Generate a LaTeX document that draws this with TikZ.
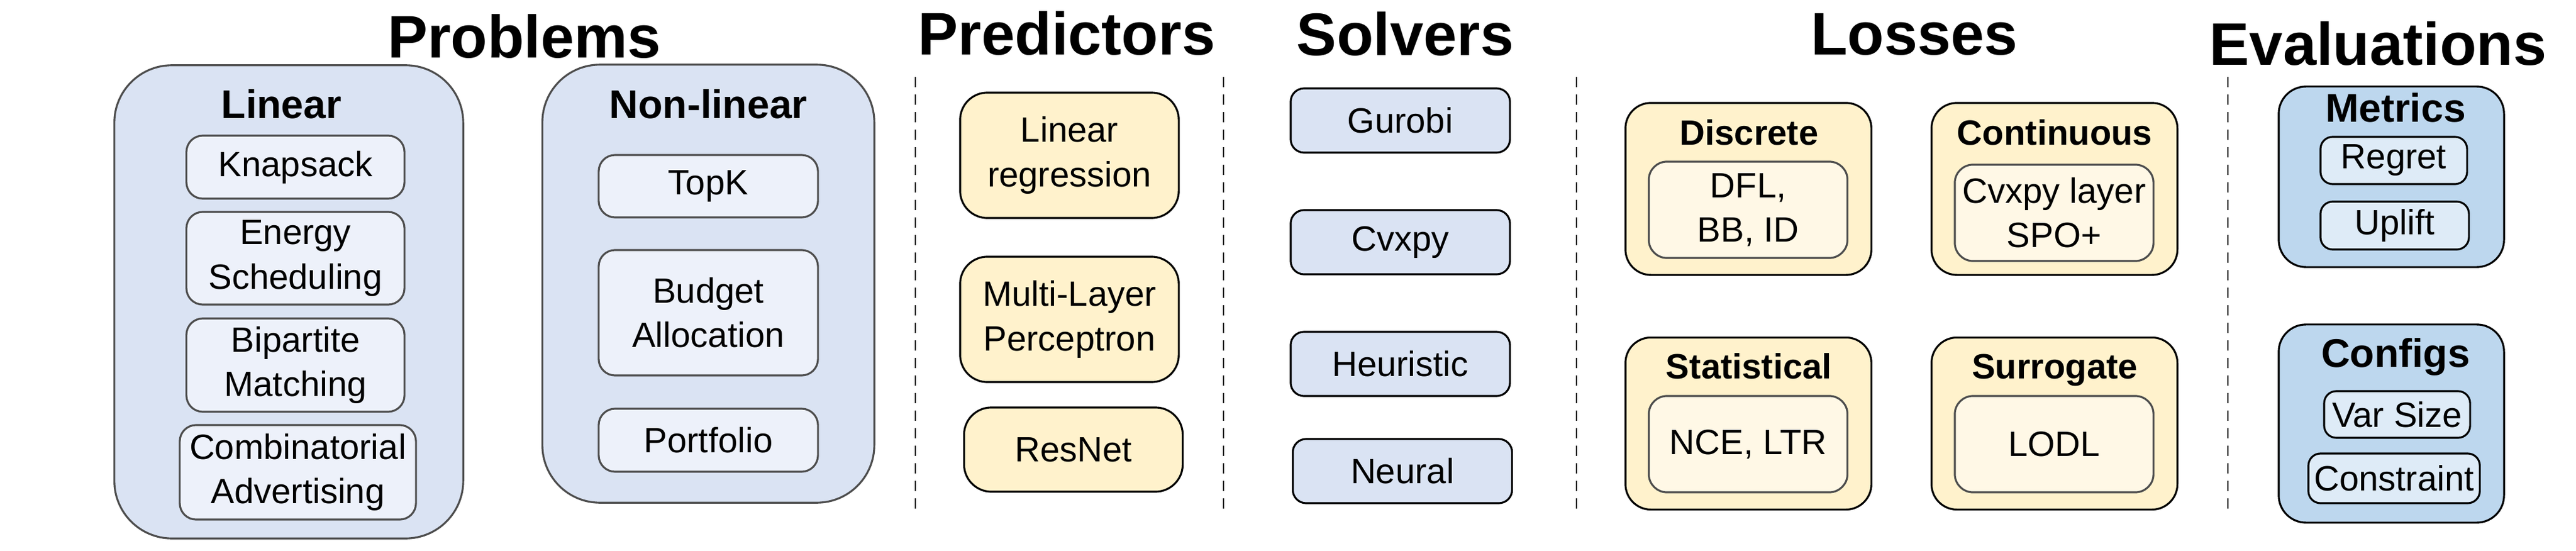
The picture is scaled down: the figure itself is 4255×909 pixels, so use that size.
\documentclass[tikz,border=0pt]{standalone}
\usepackage{fontspec}
\setmainfont{Liberation Sans}

\definecolor{probfill}{HTML}{DAE3F3}
\definecolor{probinfill}{HTML}{EDF1FA}
\definecolor{probline}{HTML}{4D4D4D}
\definecolor{predfill}{HTML}{FFF2CC}
\definecolor{lossinfill}{HTML}{FFF8E6}
\definecolor{evalfill}{HTML}{BDD7EE}
\definecolor{evalinfill}{HTML}{DEEBF7}

\newcommand{\bodyfont}{\fontsize{16.5}{20.8}\selectfont}
\newcommand{\headfont}{\fontsize{28.2}{34}\selectfont\bfseries}
\newcommand{\groupfont}{\fontsize{18.8}{22}\selectfont\bfseries}
\newcommand{\lossfont}{\fontsize{16.5}{20}\selectfont\bfseries}

\tikzset{
  boxbase/.style={line width=0.9pt, inner sep=0pt, align=center, font=\bodyfont},
  probouter/.style={boxbase, fill=probfill, draw=probline, rounded corners=0.95cm},
  probinner/.style={boxbase, fill=probinfill, draw=probline, rounded corners=0.27cm},
  predbox/.style={boxbase, fill=predfill, draw=black, rounded corners=0.45cm,
    minimum width=3.61cm},
  solvbox/.style={boxbase, fill=probfill, draw=black, rounded corners=0.22cm,
    minimum width=3.62cm, minimum height=1.06cm},
  lossouter/.style={boxbase, fill=predfill, draw=black, rounded corners=0.42cm,
    minimum width=4.06cm, minimum height=2.84cm},
  lossinner/.style={boxbase, fill=lossinfill, draw=probline, rounded corners=0.3cm,
    minimum width=3.28cm, minimum height=1.59cm},
  evalouter/.style={boxbase, fill=evalfill, draw=black, rounded corners=0.45cm,
    minimum width=3.72cm},
  evalinner/.style={boxbase, fill=evalinfill, draw=black, rounded corners=0.2cm},
  heading/.style={anchor=base, inner sep=0pt, font=\headfont},
  grouptitle/.style={anchor=base, inner sep=0pt, font=\groupfont},
  losstitle/.style={anchor=base, inner sep=0pt, font=\lossfont},
  sepline/.style={line width=0.8pt, dash pattern=on 0.17cm off 0.12cm},
}

\begin{document}
\begin{tikzpicture}[x=0.01cm, y=-0.01cm]
  \useasboundingbox (0,0) rectangle (4255,909);

  % headings
  \node[heading] (hprob) at (866,95) {Problems};
  \node[heading] (hpred) at (1762,90) {Predictors};
  \node[heading] (hsolv) at (2321,91) {Solvers};
  \node[heading] (hloss) at (3162,90) {Losses};
  \node[heading] (heval) at (3928,107) {Evaluations};

  % separators
  \foreach \x in {1512,2021,2604,3680}
    \draw[sepline] (\x,127) -- (\x,848);

  % problems
  \node[probouter, minimum width=5.76cm, minimum height=7.81cm] (linear) at (477,498.5) {};
  \node[grouptitle] (lineart) at (465,195) {Linear};
  \node[probinner, minimum width=3.6cm, minimum height=1.04cm] (knap) at (488,276) {Knapsack};
  \node[probinner, minimum width=3.6cm, minimum height=1.53cm] (energy) at (488,426.5) {Energy\\Scheduling};
  \node[probinner, minimum width=3.6cm, minimum height=1.54cm] (bipart) at (488,603) {Bipartite\\Matching};
  \node[probinner, minimum width=3.9cm, minimum height=1.56cm] (combi) at (492,780) {Combinatorial\\Advertising};

  \node[probouter, minimum width=5.48cm, minimum height=7.23cm] (nonlin) at (1170,468.5) {};
  \node[grouptitle] (nonlint) at (1170,195) {Non-linear};
  \node[probinner, minimum width=3.62cm, minimum height=1.03cm] (topk) at (1170,307.5) {TopK};
  \node[probinner, minimum width=3.62cm, minimum height=2.07cm] (budget) at (1170,516.5) {Budget\\Allocation};
  \node[probinner, minimum width=3.62cm, minimum height=1.04cm] (portf) at (1170,727) {Portfolio};

  % predictors
  \node[predbox, minimum height=2.07cm] (linreg) at (1766.5,256.5) {Linear\\regression};
  \node[predbox, minimum height=2.07cm] (mlp) at (1766.5,527.5) {Multi-Layer\\Perceptron};
  \node[predbox, minimum height=1.39cm] (resnet) at (1773,742.5) {ResNet};

  % solvers
  \node[solvbox] (gurobi) at (2313,199) {Gurobi};
  \node[solvbox] (cvxpy) at (2313,400) {Cvxpy};
  \node[solvbox] (heur) at (2313,601) {Heuristic};
  \node[solvbox] (neural) at (2316.5,778) {Neural};

  % losses
  \node[lossouter] (discr) at (2888,312) {};
  \node[losstitle] (discrt) at (2889,239) {Discrete};
  \node[lossinner] (discri) at (2887.5,346.5) {DFL,\\BB, ID};
  \node[lossouter] (cont) at (3393.5,312) {};
  \node[losstitle] (contt) at (3394,239) {Continuous};
  \node[lossinner] (conti) at (3393,351.5) {Cvxpy layer\\SPO+};
  \node[lossouter] (stat) at (2888,699.5) {};
  \node[losstitle] (statt) at (2889,625) {Statistical};
  \node[lossinner] (stati) at (2887.5,733.5) {NCE, LTR};
  \node[lossouter] (surr) at (3393.5,699.5) {};
  \node[losstitle] (surrt) at (3394,625) {Surrogate};
  \node[lossinner] (surri) at (3393,733.5) {LODL};

  % evaluations
  \node[evalouter, minimum height=2.98cm] (metrics) at (3950,292) {};
  \node[grouptitle] (metricst) at (3957,201) {Metrics};
  \node[evalinner, minimum width=2.42cm, minimum height=0.78cm] (regret) at (3954,265) {Regret};
  \node[evalinner, minimum width=2.45cm, minimum height=0.79cm] (uplift) at (3955.5,372.5) {Uplift};
  \node[evalouter, minimum height=3.27cm] (configs) at (3950,699.5) {};
  \node[grouptitle] (configst) at (3957,606) {Configs};
  \node[evalinner, minimum width=2.41cm, minimum height=0.77cm] (varsize) at (3959.5,684.5) {Var Size};
  \node[evalinner, minimum width=2.83cm, minimum height=0.82cm] (constr) at (3954.5,790) {Constraint};
\end{tikzpicture}
\end{document}
